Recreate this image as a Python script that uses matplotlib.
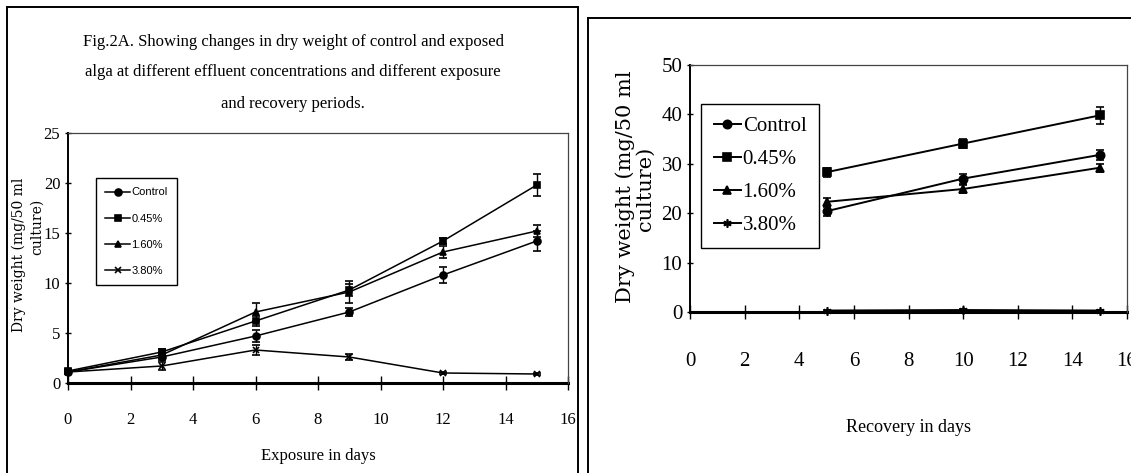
import matplotlib.pyplot as plt
from matplotlib.lines import Line2D

W, H = 1131, 473

# exposure data (left panel)
exp_days = [0, 3, 6, 9, 12, 15]
exp_control = [1.1, 2.6, 4.7, 7.1, 10.8, 14.2]
exp_control_err = [0.2, 0.3, 0.6, 0.4, 0.8, 1.0]
exp_045 = [1.2, 3.1, 6.2, 9.3, 14.2, 19.8]
exp_045_err = [0.2, 0.3, 0.5, 0.6, 0.3, 1.1]
exp_160 = [1.1, 2.8, 7.1, 9.1, 13.1, 15.2]
exp_160_err = [0.2, 0.3, 0.9, 1.1, 0.6, 0.6]
exp_380 = [1.1, 1.7, 3.3, 2.6, 1.0, 0.9]
exp_380_err = [0.1, 0.4, 0.5, 0.3, 0.1, 0.1]

# recovery data (right panel)
rec_days = [5, 10, 15]
rec_control = [20.4, 27.0, 31.8]
rec_control_err = [0.9, 1.0, 1.0]
rec_045 = [28.3, 34.1, 39.8]
rec_045_err = [0.9, 1.0, 1.7]
rec_160 = [22.3, 24.9, 29.2]
rec_160_err = [0.8, 0.8, 0.8]
rec_380 = [0.3, 0.4, 0.3]
rec_380_err = [0.2, 0.3, 0.2]

labels = ['Control', '0.45%', '1.60%', '3.80%']
xticks = [0, 2, 4, 6, 8, 10, 12, 14, 16]

title_lines = ['Fig.2A. Showing changes in dry weight of control and exposed',
               'alga at different effluent concentrations and different exposure',
               'and recovery periods.']

serif = 'Liberation Serif'

fig = plt.figure(figsize=(W / 100, H / 100), dpi=100)


def fx(px):
    return px / W


def fy(py):
    return 1 - py / H


# panel frames
for xs, ys in [([7, 7], [7, 480]), ([7, 578], [7, 7]), ([578, 578], [7, 480]),
               ([588, 588], [18, 480]), ([588, 1140], [18, 18])]:
    fig.add_artist(Line2D([fx(x) for x in xs], [fy(y) for y in ys],
                          color='black', lw=1.4))


def style_axes(ax, ymax, ystep, fs, xpad):
    ax.set_xlim(0, 16)
    ax.set_ylim(0, ymax)
    ax.set_xticks(xticks)
    ax.set_yticks(range(0, ymax + 1, ystep))
    for s in ['top', 'right']:
        ax.spines[s].set_color('#444444')
        ax.spines[s].set_linewidth(0.9)
    ax.spines['left'].set_linewidth(1.4)
    ax.spines['bottom'].set_linewidth(2.2)
    ax.spines['bottom'].set_zorder(1)
    ax.tick_params(axis='x', direction='inout', length=10, width=1,
                   pad=xpad, labelsize=fs)
    ax.tick_params(axis='y', direction='inout', length=5, width=1,
                   pad=3, labelsize=fs)
    for t in ax.get_xticklabels() + ax.get_yticklabels():
        t.set_fontfamily(serif)


def draw(ax, days, series, markers, ms, lw):
    handles = []
    for (vals, err), m, lab in zip(series, markers, labels):
        ax.errorbar(days, vals, yerr=err, color='black', marker=m, ms=ms,
                    mew=1.2, lw=lw, capsize=3, elinewidth=1, clip_on=False)
        handles.append(Line2D([], [], color='black', marker=m, ms=ms,
                              mew=1.2, lw=lw, label=lab))
    return handles


# left panel
ax1 = fig.add_axes([fx(68), fy(383), 500 / W, 250 / H])
series1 = [(exp_control, exp_control_err), (exp_045, exp_045_err),
           (exp_160, exp_160_err), (exp_380, exp_380_err)]
h1 = draw(ax1, exp_days, series1, ['o', 's', '^', 'x'], 5, 1.1)
style_axes(ax1, 25, 5, 12, 16)
ax1.set_xlabel('Exposure in days', fontfamily=serif, fontsize=12, labelpad=14)
leg1 = ax1.legend(handles=h1, loc='upper left', bbox_to_anchor=(fx(96), fy(178)),
                  bbox_transform=fig.transFigure, borderaxespad=0, fancybox=False,
                  edgecolor='black', framealpha=1,
                  prop={'family': 'Liberation Sans', 'size': 8},
                  handlelength=2.2, labelspacing=1.45, borderpad=0.85,
                  handletextpad=0.15)
leg1.get_frame().set_linewidth(1)

fig.text(fx(19), fy(255), 'Dry weight (mg/50 ml', rotation=90, ha='center',
         va='center', fontfamily='DejaVu Serif', fontsize=10)
fig.text(fx(37), fy(227), 'culture)', rotation=90, ha='center',
         va='center', fontfamily='DejaVu Serif', fontsize=10)

for line, y in zip(title_lines, [42, 72, 104]):
    fig.text(fx(293), fy(y), line, ha='center', va='center',
             fontfamily=serif, fontsize=12)

# right panel
ax2 = fig.add_axes([fx(690), fy(312), 437 / W, 247 / H])
series2 = [(rec_control, rec_control_err), (rec_045, rec_045_err),
           (rec_160, rec_160_err), (rec_380, rec_380_err)]
h2 = draw(ax2, rec_days, series2, ['o', 's', '^', (6, 2, 0)], 6, 1.4)
style_axes(ax2, 50, 10, 15, 24)
ax2.set_xlabel('Recovery in days', fontfamily=serif, fontsize=13, labelpad=34)
leg2 = ax2.legend(handles=h2, loc='upper left', bbox_to_anchor=(fx(701), fy(104)),
                  bbox_transform=fig.transFigure, borderaxespad=0, fancybox=False,
                  edgecolor='black', framealpha=1, prop={'family': serif, 'size': 15},
                  handlelength=1.3, labelspacing=0.65, borderpad=0.6,
                  handletextpad=0.1)
leg2.get_frame().set_linewidth(1)

fig.text(fx(625), fy(187), 'Dry weight (mg/50 ml', rotation=90, ha='center',
         va='center', fontfamily='DejaVu Serif', fontsize=15)
fig.text(fx(645), fy(189), 'culture)', rotation=90, ha='center',
         va='center', fontfamily='DejaVu Serif', fontsize=15)

fig.savefig('out.png', dpi=100)
